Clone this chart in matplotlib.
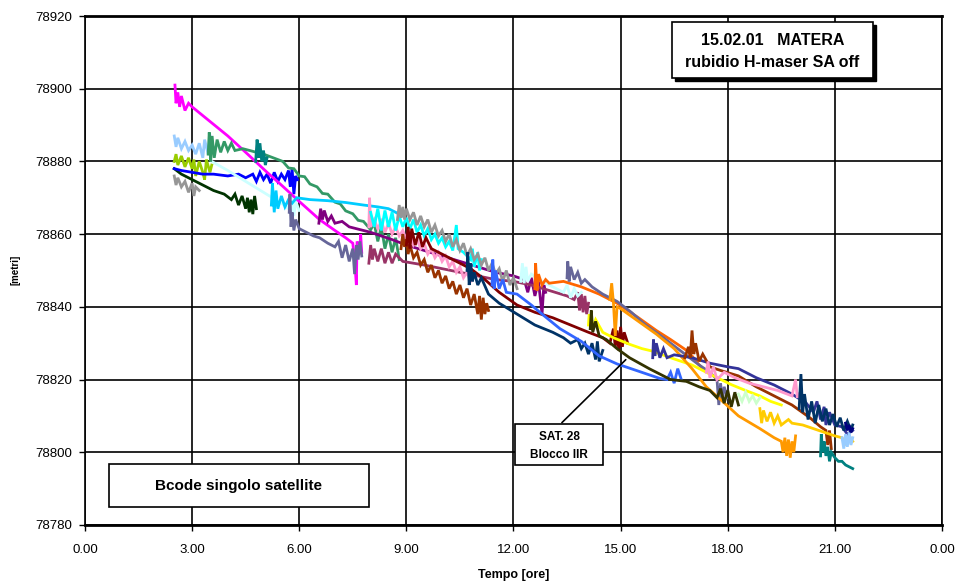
import matplotlib
matplotlib.use("Agg")
import matplotlib.pyplot as plt
from matplotlib.patches import Rectangle

plt.rcParams['font.family'] = ['Liberation Sans', 'DejaVu Sans']

# tempo [ore] / posizione [metri], una lista per satellite
magenta_t = [2.52, 2.55, 2.6, 2.65, 2.7, 2.8, 2.9, 3.0, 3.5, 4.0, 4.5, 5.1, 5.5, 6.0, 6.57, 7.0, 7.3, 7.5, 7.55, 7.6, 7.62, 7.7, 7.72, 7.75]
magenta_y = [78901, 78896, 78899, 78895, 78898, 78894, 78896, 78895, 78891, 78887, 78882.5, 78877, 78873.5, 78869, 78864, 78861, 78859, 78857.5, 78853, 78846, 78858, 78856, 78860, 78855]

ltblue_t = [2.5, 2.55, 2.6, 2.7, 2.8, 2.9, 3.0, 3.1, 3.2, 3.3, 3.35, 3.45, 3.5]
ltblue_y = [78887, 78884, 78886.5, 78883.5, 78885.5, 78883, 78884.5, 78882, 78885, 78881, 78886, 78882, 78887]

green_t = [3.45, 3.48, 3.52, 3.56, 3.62, 3.7, 3.8, 3.9, 4.0, 4.1, 4.2, 4.42, 5.0, 5.54, 5.7, 5.85, 6.0, 6.15, 6.3, 6.5, 6.65, 6.8, 7.0, 7.15, 7.3, 7.5, 7.65, 7.8, 8.0, 8.1, 8.2, 8.3, 8.4, 8.5, 8.6, 8.7, 8.8]
green_y = [78882, 78888, 78880, 78887, 78881, 78886, 78882.5, 78885.5, 78883, 78885, 78883, 78883.5, 78882, 78880, 78878.2, 78878, 78876, 78875.8, 78873.8, 78873, 78871.2, 78871, 78868.8, 78868.3, 78866.4, 78865.6, 78863.8, 78863.5, 78861.2, 78863, 78858, 78862, 78856, 78860, 78855, 78859, 78853]

teal1_t = [4.78, 4.82, 4.86, 4.9, 4.95, 5.0, 5.05, 5.1]
teal1_y = [78880, 78886, 78881, 78885, 78880, 78883, 78879, 78881]

ygreen_t = [2.5, 2.55, 2.6, 2.7, 2.8, 2.9, 3.0, 3.05, 3.1, 3.2, 3.3, 3.35, 3.4, 3.5, 3.55]
ygreen_y = [78880, 78882, 78879, 78881.5, 78878.5, 78881, 78878, 78880.5, 78876, 78880, 78877, 78875, 78880.5, 78877, 78879]

blue_t = [2.5, 2.7, 3.0, 3.3, 3.6, 4.0, 4.3, 4.5, 4.7, 4.8, 4.9, 5.0, 5.1, 5.2, 5.3, 5.4, 5.5, 5.6, 5.7, 5.75, 5.8, 5.85, 5.9, 5.95]
blue_y = [78878, 78877.5, 78877, 78876.5, 78876.5, 78876, 78876.5, 78875.5, 78876.5, 78874.5, 78877, 78875, 78876.5, 78874, 78877, 78874.5, 78876.5, 78875, 78877.5, 78873, 78878, 78871, 78876, 78875]

dkgreen_t = [2.5, 2.7, 3.0, 3.3, 3.6, 3.9, 4.1, 4.2, 4.3, 4.4, 4.5, 4.55, 4.6, 4.65, 4.7, 4.75, 4.8]
dkgreen_y = [78878, 78876.5, 78875, 78873.5, 78872, 78871, 78869.5, 78871, 78868, 78870.5, 78867, 78870, 78866, 78869.5, 78865.5, 78870.5, 78867]

gray1_t = [2.5, 2.55, 2.6, 2.7, 2.8, 2.9, 3.0, 3.05, 3.1, 3.2]
gray1_y = [78876, 78873.5, 78875.5, 78873, 78874.5, 78871.5, 78874, 78870.5, 78873, 78872]

palecyan1_t = [3.55, 4.0, 4.5, 5.0, 5.5, 5.7, 5.8, 5.85, 5.9, 6.0]
palecyan1_y = [78880, 78877.5, 78874.5, 78871.5, 78868.5, 78867, 78871, 78865, 78869, 78866.5]

skyblue_t = [5.22, 5.25, 5.3, 5.35, 5.4, 5.5, 5.6, 5.7, 5.8, 5.93, 6.3, 6.8, 7.3, 7.8, 8.2, 8.5, 8.9]
skyblue_y = [78868, 78874, 78866, 78872, 78867, 78870.5, 78867.5, 78869.5, 78868.5, 78870, 78869.5, 78869.2, 78868.7, 78868, 78867.5, 78867, 78865]

slate1_t = [5.72, 5.74, 5.77, 5.8, 5.85, 5.9, 6.0, 6.2, 6.4, 6.57, 6.8, 7.0, 7.1, 7.2, 7.3, 7.4, 7.5, 7.55, 7.6, 7.65, 7.7, 7.75]
slate1_y = [78866, 78871, 78862, 78866, 78861, 78864, 78861.5, 78860.5, 78859.5, 78859, 78857.5, 78856.5, 78858, 78853.5, 78857, 78852.5, 78856, 78849, 78857, 78853, 78858, 78854]

purple_t = [6.55, 6.6, 6.65, 6.7, 6.8, 6.9, 7.0, 7.2, 7.4, 7.6, 7.8, 8.0, 8.3, 8.6, 9.0, 9.5, 10.0, 10.5, 11.0, 11.5, 12.0, 12.3, 12.4, 12.5, 12.6, 12.7, 12.8, 12.85, 12.9]
purple_y = [78863, 78867, 78864, 78866.5, 78863.5, 78865, 78863, 78863.5, 78862, 78861.5, 78861, 78860.5, 78859.5, 78858.5, 78857, 78855.5, 78854, 78852.5, 78851, 78849.5, 78848.5, 78847.5, 78844, 78848, 78843, 78847, 78838, 78846, 78844]

rose_t = [7.95, 8.0, 8.05, 8.1, 8.2, 8.3, 8.4, 8.5, 8.6, 8.7, 8.9, 9.5, 10.0, 10.5, 11.0, 11.5, 12.0, 12.5, 13.0, 13.5, 13.7, 13.8, 13.85, 13.9, 13.95, 14.0, 14.05, 14.1]
rose_y = [78852, 78857, 78853, 78856, 78852.5, 78856, 78852, 78855, 78852, 78854.5, 78852.5, 78851.5, 78850.5, 78849.5, 78848.5, 78847.5, 78847, 78846, 78844.5, 78843, 78842, 78844, 78839, 78843.5, 78838.5, 78843, 78838, 78841]

pink1_t = [7.95, 7.97, 8.0, 8.1, 8.2, 8.3, 8.4, 8.5, 8.6, 8.7, 8.8, 8.9, 9.0, 9.1, 9.2, 9.3, 9.4, 9.5, 9.6, 9.7, 9.8, 9.9, 10.0, 10.1, 10.2, 10.3, 10.4, 10.5, 10.6, 10.7, 10.8]
pink1_y = [78862, 78870, 78862, 78864, 78861.5, 78863.5, 78860.5, 78863, 78860, 78862, 78859.5, 78861, 78858.5, 78860, 78857, 78858.5, 78856, 78857.5, 78854.5, 78856, 78853.5, 78855, 78852.5, 78854, 78851, 78852.5, 78849.5, 78851, 78848, 78849.5, 78847]

cyan_t = [8.0, 8.1, 8.2, 8.3, 8.4, 8.5, 8.6, 8.7, 8.8, 8.9, 9.0, 9.1, 9.2, 9.3, 9.4, 9.5, 9.6, 9.7, 9.8, 9.9, 10.0, 10.1, 10.2, 10.3, 10.4, 10.45, 10.6, 10.8, 10.85, 10.9, 11.0, 11.05, 11.1]
cyan_y = [78866, 78862, 78867, 78861, 78866.5, 78862, 78866, 78861, 78865, 78862, 78864.5, 78861.5, 78864, 78860.5, 78862.5, 78859.5, 78861.5, 78858.5, 78860, 78857.5, 78859, 78856.5, 78858, 78855.5, 78862.5, 78856, 78855, 78853, 78856, 78851, 78855, 78850, 78853]

gray2_t = [8.75, 8.8, 8.85, 8.9, 8.95, 9.0, 9.1, 9.2, 9.3, 9.4, 9.5, 9.6, 9.7, 9.8, 9.9, 10.0, 10.1, 10.2, 10.3, 10.4, 10.5, 10.6, 10.7, 10.8, 10.9, 11.0, 11.1, 11.2, 11.3, 11.4, 11.5, 11.6, 11.7, 11.8, 11.9, 12.0, 12.1]
gray2_y = [78864, 78868, 78864.5, 78867.5, 78864, 78867, 78864, 78866, 78862.5, 78865, 78862, 78864, 78860.5, 78862.5, 78859.5, 78861, 78858, 78860, 78856.5, 78858.5, 78855.5, 78857.5, 78854, 78856, 78853, 78854.5, 78851.5, 78853.5, 78850, 78852, 78849, 78850.5, 78847, 78850, 78846, 78848, 78845]

rust1_t = [8.85, 8.9, 8.95, 9.0, 9.05, 9.1, 9.2, 9.3, 9.4, 9.5, 9.6, 9.7, 9.8, 9.9, 10.0, 10.1, 10.2, 10.3, 10.4, 10.5, 10.6, 10.7, 10.8, 10.9, 11.0, 11.05, 11.1, 11.15, 11.2, 11.25, 11.3]
rust1_y = [78856, 78860, 78856.5, 78858.5, 78854.5, 78857, 78853.5, 78855, 78851.5, 78853, 78849.5, 78851.5, 78848, 78850, 78846.5, 78848.5, 78845, 78847, 78843.5, 78846, 78842.5, 78845, 78840.5, 78843.5, 78838, 78843, 78836.5, 78842.5, 78838, 78841, 78839]

dkred_t = [9.0, 9.05, 9.1, 9.15, 9.25, 9.35, 9.45, 9.55, 9.7, 10.0, 10.4, 10.8, 11.2, 11.6, 12.1, 12.6, 13.1, 13.6, 14.1, 14.5, 14.7, 14.8, 14.85, 14.9, 14.95, 15.0, 15.05, 15.1, 15.2]
dkred_y = [78857, 78862, 78856, 78861.5, 78857, 78860.5, 78856.5, 78859, 78856, 78854.5, 78852.5, 78850.5, 78847.5, 78844, 78840.5, 78838.5, 78837, 78835, 78833, 78831.5, 78830, 78834, 78829, 78833.5, 78828, 78834.5, 78829, 78833, 78830]

navy1_t = [10.7, 10.72, 10.76, 10.8, 10.85, 10.9, 11.0, 11.1, 11.3, 11.6, 12.1, 12.6, 13.1, 13.4, 13.6, 13.8, 13.9, 14.0, 14.1, 14.2, 14.3, 14.35, 14.4, 14.5]
navy1_y = [78850, 78855, 78846, 78852, 78847, 78849.5, 78846, 78848, 78843.5, 78841, 78838, 78835, 78833, 78831.5, 78830, 78831, 78828.5, 78830, 78827, 78830, 78825.5, 78830.5, 78825, 78828]

royal_t = [11.4, 11.42, 11.46, 11.5, 11.6, 11.7, 11.8, 12.1, 12.5, 12.8, 13.3, 13.9, 14.4, 14.9, 15.5, 16.1, 16.3, 16.4, 16.5, 16.6, 16.7]
royal_y = [78846, 78853, 78845, 78850, 78845, 78847.5, 78844, 78843.5, 78840.5, 78838, 78834, 78830.5, 78826.5, 78824.3, 78822.3, 78820.3, 78820, 78822, 78819, 78823, 78820]

palecyan2_t = [12.2, 12.25, 12.3, 12.35, 12.4, 12.5, 12.8, 13.1, 13.4, 13.5, 13.6, 13.7, 13.8, 13.9]
palecyan2_y = [78847, 78852, 78846.5, 78851, 78847, 78849, 78847, 78845.5, 78844, 78846, 78842.5, 78845, 78843, 78844]

orange_t = [12.6, 12.62, 12.66, 12.7, 12.8, 12.9, 13.0, 13.4, 13.9, 14.4, 14.9, 15.5, 16.0, 16.4, 16.85, 17.0, 17.2, 17.3]
orange_y = [78845, 78852, 78844.5, 78849, 78846, 78847.5, 78846.5, 78847, 78845.5, 78843.5, 78841, 78837, 78833.5, 78831, 78828, 78826.5, 78824, 78823]

slate2_t = [13.5, 13.52, 13.56, 13.6, 13.7, 13.8, 13.9, 14.0, 14.2, 14.5, 14.9, 15.3, 15.7, 16.2, 16.8, 17.2, 17.5, 17.7, 17.75, 17.8, 17.85, 17.9, 18.0]
slate2_y = [78848, 78852.5, 78847, 78851, 78847.5, 78849.5, 78846.5, 78847.5, 78845.5, 78843.5, 78841.5, 78838.5, 78835, 78831.5, 78827, 78824, 78822, 78820, 78813, 78819, 78814, 78818, 78815]

yellow_t = [14.1, 14.12, 14.2, 14.3, 14.5, 14.8, 15.25, 15.6, 15.9, 16.4, 17.0, 17.5, 18.1, 18.5, 18.9, 19.2, 19.5]
yellow_y = [78835, 78838, 78834, 78836.5, 78833, 78831.5, 78829.7, 78828.5, 78827.8, 78826, 78824, 78821.5, 78818.6, 78817, 78815.5, 78814, 78813]

ltorange_t = [14.7, 14.75, 14.8, 14.85, 14.9, 15.0, 15.5, 16.0, 16.5, 17.0, 17.4, 17.8, 18.3, 18.9, 19.3, 19.5, 19.55, 19.6, 19.65, 19.7, 19.75, 19.8, 19.85, 19.9]
ltorange_y = [78842, 78846.5, 78841, 78832, 78840, 78839.5, 78836, 78832.5, 78828.5, 78823, 78818, 78814.5, 78810, 78806.5, 78804, 78803, 78800, 78804, 78799, 78803.5, 78798.5, 78803, 78800, 78804.5]

# SAT. 28 Blocco IIR
sat28_t = [14.15, 14.18, 14.22, 14.3, 14.4, 14.6, 14.9, 15.25, 15.8, 16.4, 16.84, 17.2, 17.5, 17.7, 17.8, 17.9, 18.0, 18.1, 18.2, 18.3]
sat28_y = [78834, 78839, 78833, 78836, 78832, 78831, 78828.5, 78826, 78823, 78820, 78819.5, 78818, 78817, 78815, 78817.5, 78813.5, 78817, 78812.5, 78816.5, 78813]

indigo_t = [15.9, 15.92, 15.96, 16.0, 16.1, 16.2, 16.3, 16.5, 17.0, 17.5, 18.0, 18.3, 18.8, 19.3, 19.8, 20.2, 20.4, 20.5, 20.6, 20.7, 20.75, 20.85, 21.0, 21.2, 21.35, 21.5]
indigo_y = [78826, 78831, 78826.5, 78830, 78826, 78828.5, 78826, 78826.8, 78826, 78824.5, 78823.5, 78823, 78820.5, 78818.5, 78816, 78813.5, 78811, 78814, 78809, 78812.5, 78807.5, 78811, 78807.5, 78807, 78805, 78806]

rust2_t = [16.8, 16.9, 16.95, 17.0, 17.05, 17.1, 17.2, 17.3, 17.5, 17.8, 18.3, 18.8, 19.3, 19.8, 20.3, 20.6, 20.75, 20.8, 20.85, 20.9]
rust2_y = [78826, 78829, 78826, 78833.5, 78827, 78830, 78825, 78827, 78823.5, 78822.5, 78821, 78818, 78815.5, 78813, 78809.5, 78807, 78806, 78802, 78806, 78801]

pink2_t = [17.4, 17.45, 17.5, 17.6, 17.7, 17.9, 18.2, 18.6, 19.0, 19.4, 19.8, 19.9, 19.95, 20.0]
pink2_y = [78822, 78825, 78820.5, 78823.5, 78820, 78822, 78820.5, 78819, 78818, 78817, 78815.5, 78820, 78815, 78816]

palegreen_t = [18.3, 18.4, 18.5, 18.6, 18.7, 18.8, 18.9]
palegreen_y = [78816, 78814, 78816.5, 78814, 78815.5, 78813.5, 78815]

gold_t = [18.9, 18.95, 19.0, 19.1, 19.2, 19.3, 19.4, 19.5, 19.7, 19.8, 20.1, 20.4, 20.7, 21.0, 21.2, 21.3, 21.4, 21.5]
gold_y = [78812, 78808, 78811.5, 78808.5, 78811, 78808, 78810, 78807.5, 78809, 78808, 78807.5, 78806.5, 78805.5, 78804.5, 78804, 78802.5, 78804.5, 78803]

navy2_t = [20.0, 20.05, 20.1, 20.15, 20.25, 20.35, 20.45, 20.55, 20.65, 20.75, 20.85, 20.95, 21.05, 21.15, 21.25, 21.35, 21.45, 21.5]
navy2_y = [78812, 78821.5, 78811, 78816, 78809, 78814, 78808, 78813, 78808.5, 78812, 78807.5, 78810.5, 78807, 78809.5, 78806, 78808.5, 78806, 78807.5]

teal2_t = [20.6, 20.62, 20.66, 20.7, 20.75, 20.8, 20.85, 20.9, 21.0, 21.1, 21.2, 21.3, 21.4, 21.5]
teal2_y = [78799, 78805, 78800, 78803, 78799, 78801.5, 78797.5, 78800, 78798.5, 78797.5, 78797.5, 78796.5, 78796, 78795.5]

ltblue2_t = [21.2, 21.25, 21.3, 21.35, 21.4, 21.45, 21.5]
ltblue2_y = [78804, 78801, 78805, 78801.5, 78805.5, 78802, 78804]

navy3_t = [21.3, 21.35, 21.4, 21.45, 21.5]
navy3_y = [78808, 78806, 78807.5, 78805.5, 78806.5]

x_ticks = [0, 3, 6, 9, 12, 15, 18, 21, 24]
x_labels = ['0.00', '3.00', '6.00', '9.00', '12.00', '15.00', '18.00', '21.00', '0.00']
y_ticks = [78780, 78800, 78820, 78840, 78860, 78880, 78900, 78920]

serie = [
    (ltblue_t, ltblue_y, '#99CCFF'),
    (gray1_t, gray1_y, '#969696'),
    (ygreen_t, ygreen_y, '#99CC00'),
    (dkgreen_t, dkgreen_y, '#003300'),
    (blue_t, blue_y, '#0000FF'),
    (palecyan1_t, palecyan1_y, '#CCFFFF'),
    (magenta_t, magenta_y, '#FF00FF'),
    (green_t, green_y, '#339966'),
    (teal1_t, teal1_y, '#008080'),
    (skyblue_t, skyblue_y, '#00CCFF'),
    (slate1_t, slate1_y, '#666699'),
    (purple_t, purple_y, '#800080'),
    (rose_t, rose_y, '#993366'),
    (pink1_t, pink1_y, '#FF99CC'),
    (cyan_t, cyan_y, '#00FFFF'),
    (gray2_t, gray2_y, '#969696'),
    (rust1_t, rust1_y, '#993300'),
    (dkred_t, dkred_y, '#800000'),
    (navy1_t, navy1_y, '#003366'),
    (royal_t, royal_y, '#3366FF'),
    (palecyan2_t, palecyan2_y, '#CCFFFF'),
    (orange_t, orange_y, '#FF6600'),
    (slate2_t, slate2_y, '#666699'),
    (yellow_t, yellow_y, '#FFFF00'),
    (ltorange_t, ltorange_y, '#FF9900'),
    (sat28_t, sat28_y, '#333300'),
    (indigo_t, indigo_y, '#333399'),
    (rust2_t, rust2_y, '#993300'),
    (pink2_t, pink2_y, '#FF99CC'),
    (palegreen_t, palegreen_y, '#CCFFCC'),
    (gold_t, gold_y, '#FFCC00'),
    (navy2_t, navy2_y, '#003366'),
    (teal2_t, teal2_y, '#008080'),
    (ltblue2_t, ltblue2_y, '#99CCFF'),
    (navy3_t, navy3_y, '#000080'),
]

fig = plt.figure(figsize=(9.57, 5.82), dpi=100)
ax = fig.add_axes([0.0888, 0.0980, 0.8955, 0.8745])

for t, y, c in serie:
    ax.plot(t, y, color=c, linewidth=2.0, solid_joinstyle='miter')

ax.set_xlim(0, 24)
ax.set_ylim(78780, 78920)
ax.set_xticks(x_ticks)
ax.set_xticklabels(x_labels)
ax.set_yticks(y_ticks)
ax.grid(True, color='black', linewidth=1.2)
ax.set_axisbelow(True)
ax.tick_params(axis='both', direction='out', length=4, width=1, labelsize=9.5, colors='black')
ax.tick_params(axis='x', pad=10)
ax.tick_params(axis='y', pad=5)
ax.spines['top'].set_linewidth(2)
ax.spines['bottom'].set_linewidth(2)
ax.spines['left'].set_linewidth(1.2)
ax.spines['right'].set_linewidth(1.2)

fig.text(0.5366, 0.012, 'Tempo [ore]', ha='center', va='center', fontsize=9, fontweight='bold')
fig.text(0.016, 0.536, '[metri]', ha='center', va='center', rotation=90, fontsize=7, fontweight='bold')

# riquadro titolo con ombra
fig.patches.append(Rectangle((0.7053, 0.8608), 0.2100, 0.0962, transform=fig.transFigure,
                             facecolor='black', edgecolor='black', zorder=5))
fig.patches.append(Rectangle((0.7022, 0.8660), 0.2100, 0.0962, transform=fig.transFigure,
                             facecolor='white', edgecolor='black', linewidth=1.2, zorder=6))
fig.text(0.8072, 0.9300, '15.02.01   MATERA', ha='center', va='center', fontsize=11.5, fontweight='bold', zorder=7)
fig.text(0.8072, 0.8920, 'rubidio H-maser SA off', ha='center', va='center', fontsize=11.5, fontweight='bold', zorder=7)

# riquadro Bcode
fig.patches.append(Rectangle((0.1139, 0.1289), 0.2717, 0.0739, transform=fig.transFigure,
                             facecolor='white', edgecolor='black', linewidth=1.2, zorder=6))
fig.text(0.2497, 0.1658, 'Bcode singolo satellite', ha='center', va='center', fontsize=11, fontweight='bold', zorder=7)

# SAT. 28 con freccia
ax.annotate('', xy=(15.2, 78826), xytext=(13.3, 78807.6),
            arrowprops=dict(arrowstyle='-', color='black', linewidth=1.2), zorder=5)
fig.patches.append(Rectangle((0.5381, 0.2010), 0.0920, 0.0704, transform=fig.transFigure,
                             facecolor='white', edgecolor='black', linewidth=1.2, zorder=6))
fig.text(0.5841, 0.2485, 'SAT. 28', ha='center', va='center', fontsize=8.5, fontweight='bold', zorder=7)
fig.text(0.5841, 0.2180, 'Blocco IIR', ha='center', va='center', fontsize=8.5, fontweight='bold', zorder=7)

fig.savefig('out.png', dpi=100)
